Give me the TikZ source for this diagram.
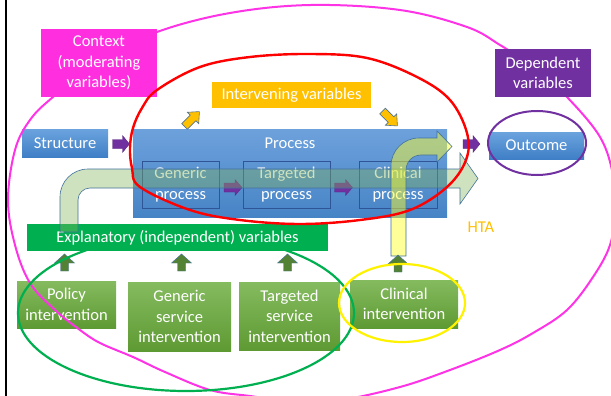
\documentclass[tikz,border=0pt]{standalone}
\usepackage{fontspec}
\setmainfont{Carlito}
\definecolor{magline}{HTML}{FF33E6}
\definecolor{magbox}{HTML}{FF2FE0}
\definecolor{gold}{HTML}{FFC000}
\definecolor{purp}{HTML}{7030A0}
\definecolor{blueT}{HTML}{6BA3DE}
\definecolor{blueB}{HTML}{3F7FC6}
\definecolor{procT}{HTML}{6DA1DC}
\definecolor{procB}{HTML}{4784C6}
\definecolor{innerB}{HTML}{2F5597}
\definecolor{grbar}{HTML}{00B050}
\definecolor{grT}{HTML}{85BB5F}
\definecolor{grB}{HTML}{5E9A33}
\definecolor{dkgr}{HTML}{548235}
\definecolor{arrB}{HTML}{41719C}
\definecolor{uarrG}{HTML}{81B359}
\definecolor{uarrY}{HTML}{FFFF2A}
\newcommand\blockarr[8]{\draw[#1,shift={(#2,#3)},rotate=#4] (-#5/2,-#6) -- ({#5/2-#8},-#6) -- ({#5/2-#8},-#7) -- (#5/2,0) -- ({#5/2-#8},#7) -- ({#5/2-#8},#6) -- (-#5/2,#6) -- cycle;}
\begin{document}
\begin{tikzpicture}[x=1pt,y=-1pt,
  font=\fontsize{16.5}{20.5}\selectfont,
  lbl/.style={inner sep=0pt, text=white, align=center},
  flatbox/.style={lbl, fill=#1},
  bluebox/.style={lbl, top color=blueT, bottom color=blueB},
  greenbox/.style={lbl, top color=grT, bottom color=grB},
  innerbox/.style={lbl, draw=innerB, line width=0.8pt},
  purparr/.style={fill=purp, draw=purp!80!black, line width=0.3pt},
  goldarr/.style={fill=gold, draw=arrB!70!gray, line width=0.6pt},
  dkarr/.style={fill=dkgr, draw=arrB, line width=0.4pt},
  ring/.style={draw=#1, line width=2.2pt},
]
\useasboundingbox (0,0) rectangle (611,396);
\fill[white] (0,0) rectangle (611,396);
% left black rule
\draw[black, line width=1.8pt] (5.8,0) -- (5.8,396);

% structure, process, outcome
\node[bluebox, minimum width=86, minimum height=28] (structure) at (65,143) {Structure};
\node[lbl, top color=procT, bottom color=procB, minimum width=314, minimum height=88] (process) at (290,173) {};
\node[lbl] (proclbl) at (290,143) {Process};
\node[innerbox, minimum width=77, minimum height=47] (genp) at (180.5,184.5) {Generic\\process};
\node[innerbox, minimum width=87, minimum height=47] (tarp) at (286.5,184.5) {Targeted\\process};
\node[innerbox, minimum width=78, minimum height=47] (clip) at (398,184.5) {Clinical\\process};
\node[bluebox, minimum width=95, minimum height=27] (outcome) at (536.5,145.5) {Outcome};
\node[flatbox=gold, minimum width=159, minimum height=26] (interv) at (291.5,95) {Intervening variables};

% purple block arrows
\blockarr{purparr}{121}{144}{0}{17}{4.5}{8.5}{7}
\blockarr{purparr}{233}{187.5}{0}{18}{4.5}{8}{7}
\blockarr{purparr}{343.5}{187.5}{0}{18}{4.5}{8}{7}
\blockarr{purparr}{471.5}{144}{0}{17}{4.5}{8.5}{7}

% gold arrows
\blockarr{goldarr}{192}{119}{45}{21}{4}{8}{9}
\blockarr{goldarr}{390}{118.5}{-45}{21}{4}{8}{9}

% intervention boxes
\node[greenbox, minimum width=99, minimum height=47] (policy) at (66.5,304.5) {Policy\\intervention};
\node[greenbox, minimum width=103, minimum height=69] (gensvc) at (179.5,316.5) {Generic\\service\\intervention};
\node[greenbox, minimum width=101, minimum height=68] (tarsvc) at (289.5,316) {Targeted\\service\\intervention};
\node[greenbox, minimum width=108, minimum height=48] (clinint) at (404,304) {Clinical\\intervention};

% dark green up arrows
\blockarr{dkarr}{64.5}{262.5}{90}{17}{4}{10}{9}
\blockarr{dkarr}{181.5}{262.5}{90}{17}{4}{10}{9}
\blockarr{dkarr}{287.5}{262.5}{90}{17}{4}{10}{9}

% big context ring
\draw[magline, line width=2pt] plot[smooth cycle, tension=0.6] coordinates {
 (311,5) (400,10) (467,27) (500,45) (535,68) (567,97) (600,137) (613,175)
 (615,210) (610,245) (593,277) (567,310) (533,333) (500,350) (450,370)
 (400,387) (340,400) (290,401) (250,396) (210,390) (165,372) (133,357)
 (100,343) (80,330) (55,310) (30,283) (15,245) (8,200) (15,150) (30,120)
 (53,97) (100,60) (157,32) (230,13)};

% label boxes over the context ring
\node[flatbox=magbox, minimum width=116, minimum height=68] (context) at (99,63) {Context\\(moderating\\variables)};
\node[flatbox=purp, minimum width=96, minimum height=48] (dep) at (543,73) {Dependent\\variables};

% green ring (independent variables)
\draw[ring=grbar] (186,313) ellipse [x radius=168, y radius=78];

% explanatory bar
\node[flatbox=grbar, minimum width=301, minimum height=27] (expl) at (177.5,237.5) {Explanatory (independent) variables};

% green U-turn arrow
\draw[draw=arrB, line width=0.6pt, fill=uarrG, fill opacity=0.38]
  (60,232) -- (60,197) .. controls (60,181.5) and (72.5,169) .. (88,169)
  -- (460,169) -- (460,153) -- (478,178.5) -- (460,204) -- (460,188)
  -- (90,188) .. controls (83.4,188) and (78,193.4) .. (78,200) -- (78,232) -- cycle;

% yellow U-turn arrow
\draw[draw=arrB, line width=0.6pt, fill=uarrY, fill opacity=0.48]
  (391,256) -- (391,166) .. controls (391,150.5) and (403.5,138) .. (419,138)
  -- (437,138) -- (437,131) -- (452,146.5) -- (437,162) -- (437,155)
  -- (421,155) .. controls (412.7,155) and (406,161.7) .. (406,170) -- (406,256) -- cycle;

\blockarr{dkarr}{398}{263.5}{90}{17}{4}{10}{9}

% HTA label
\node[inner sep=0pt, text=gold] (hta) at (481,227) {HTA};

% rings on top
\draw[ring=red, line width=2.4pt] plot[smooth cycle, tension=0.6] coordinates {
 (310,54) (367,58) (417,77) (450,100) (467,133) (466,160) (447,187) (410,210)
 (360,220) (300,224) (240,220) (190,210) (140,187) (132,168) (130,148)
 (133,128) (142,108) (157,90) (200,67) (250,57)};
\draw[ring=yellow] (402,303) ellipse [x radius=63, y radius=39];
\draw[ring=purp, line width=2pt] (537,143) ellipse [x radius=49, y radius=32];
\end{tikzpicture}
\end{document}
